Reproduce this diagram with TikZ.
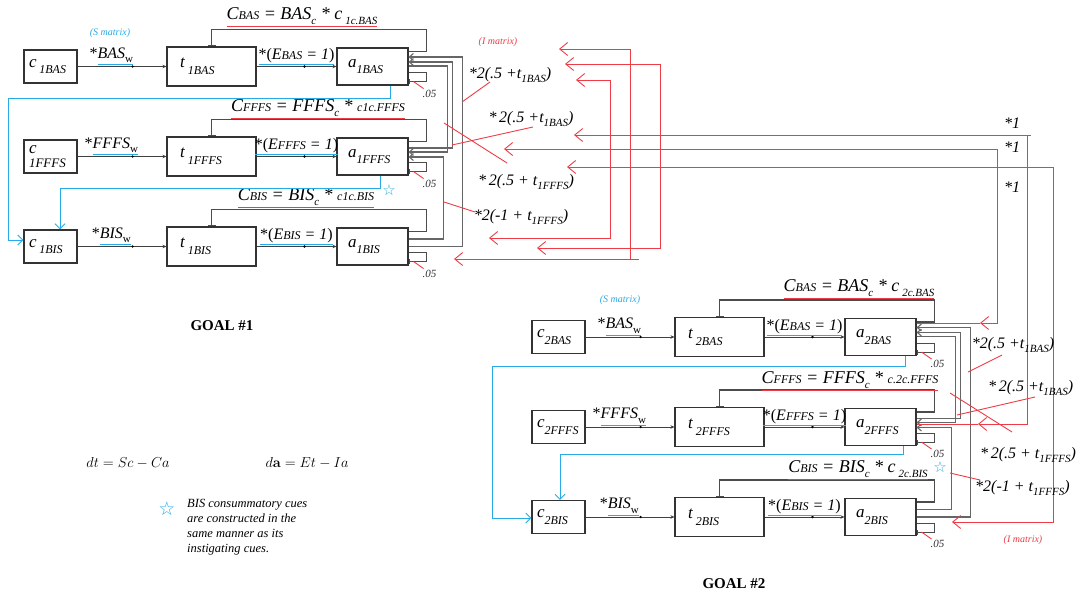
\documentclass[tikz,border=0pt]{standalone}
\usepackage[no-math]{fontspec}
\setmainfont{Liberation Serif}
\newfontfamily\djv{DejaVu Sans}
\usetikzlibrary{arrows.meta,calc}
\definecolor{sblue}{RGB}{40,170,230}
\definecolor{ired}{RGB}{238,60,70}

\newcommand{\lab}[3][\,]{\textit{#2}#1\raisebox{-0.4em}{\fontsize{12}{12}\selectfont\textit{#3}}}
\newcommand{\bund}[1]{{\color{sblue}\underline{\color{black}#1}}}
\newcommand{\rund}[1]{{\color{ired}\underline{\color{black}#1}}}
\newcommand{\ssub}[1]{{\fontsize{12}{12}\selectfont #1}}
\newcommand{\lsub}[1]{\raisebox{-0.3em}{\fontsize{11}{11}\selectfont #1}}

\tikzset{
  boxbase/.style={draw=black!80, line width=1.1pt, minimum height=#1, inner sep=0pt,
    align=left, font=\fontsize{17}{18}\selectfont},
  cbox/.style={boxbase=33pt, minimum width=53pt, text width=43pt},
  tbox/.style={boxbase=39pt, minimum width=89pt, text width=63pt},
  abox/.style={boxbase=37pt, minimum width=71pt, text width=49pt},
  conn/.style={draw=black!75, line width=0.9pt, -{Stealth[length=4pt,width=3.5pt]}},
  fb/.style={draw=black!70, line width=1.1pt, -{Bar[width=8pt,line width=1.1pt]}},
  selfloop/.style={draw=black!70, line width=1pt, -{Bar[width=5pt,line width=1pt]}},
  iconn/.style={draw=black!60, line width=1.1pt, -{Straight Barb[length=4pt,width=7pt]}},
  rline/.style={draw=ired, line width=0.9pt},
  rarr/.style={rline, {Straight Barb[length=8pt,width=13pt,line width=0.9pt]}-{Straight Barb[length=8pt,width=13pt,line width=0.9pt]}},
  bline/.style={draw=sblue, line width=1pt, -{Straight Barb[length=5pt,width=10pt]}},
  dotm/.style={circle, fill=black, inner sep=0.9pt},
  wlab/.style={above, inner sep=1pt, font=\fontsize{16}{16}\selectfont},
  elab/.style={above, inner sep=1pt, font=\fontsize{16}{16}\selectfont},
  eqn/.style={inner sep=0pt, font=\itshape\fontsize{18}{18}\selectfont},
  ilab/.style={inner sep=0pt, font=\itshape\fontsize{16}{16}\selectfont},
  small/.style={inner sep=0pt, font=\itshape\fontsize{10}{10}\selectfont},
  fivelab/.style={inner sep=0pt, font=\itshape\fontsize{11}{11}\selectfont, text=black!80},
  starnode/.style={inner sep=0pt, text=sblue, font=\djv\fontsize{15}{15}\selectfont},
  goal/.style={inner sep=0pt, font=\bfseries\fontsize{15}{15}\selectfont}
}

% one row of a goal: #1 id, #2 dx, #3 y, #4 c-label, #5 w text, #6 E subscript
\newcommand{\goalrow}[6]{%
  \node[cbox] (c#1) at ({#2+50.5},#3) {#4};
  \node[tbox] (t#1) at ({#2+211.5},#3) {\lab{t}{#1}};
  \node[abox] (a#1) at ({#2+372.5},#3) {\lab[]{a}{#1}};
  \draw[conn] (c#1) -- node[dotm,pos=0.62]{} node[wlab,pos=0.38]{*\bund{\textit{#5}\lsub{w}}} (t#1);
  \draw[conn] (t#1) -- node[dotm,pos=0.6]{} node[elab]{\bund{*(\textit{E\ssub{#6} = 1})}} (a#1);
  \draw[fb] ([yshift=-4pt]a#1.north east) -- ++(18,0) -- ++(0,-22) -| (t#1.north);
  \draw[selfloop] ([yshift=13pt]a#1.south east) -- ++(18,0) -- ++(0,9) -- ++(-18,0);
  \draw[rline] ([xshift=5pt,yshift=4pt]a#1.south east) -- ([xshift=15pt,yshift=-3pt]a#1.south east);
  \node[fivelab] (f#1) at ([xshift=21pt,yshift=-8pt]a#1.south east) {.05};
}
% inhibitory connections among the a boxes of one goal
\newcommand{\goalconn}[1]{%
  \draw[iconn] (a#1BIS.east) -- ++(54,0) |- ([yshift=9.5pt]a#1BAS.east);
  \draw[iconn] ([yshift=8.5pt]a#1FFFS.east) -- ++(44,0) |- ([yshift=4.5pt]a#1BAS.east);
  \draw[iconn] ([yshift=0.5pt]a#1BAS.east) -- ++(39,0) |- ([yshift=4.5pt]a#1FFFS.east);
  \draw[iconn] ([yshift=7.5pt]a#1BIS.east) -- ++(35,0) |- ([yshift=-0.5pt]a#1FFFS.east);
}

\begin{document}
\begin{tikzpicture}[x=1pt,y=-1pt]
\useasboundingbox (0,0) rectangle (1076,596);
\fill[white] (0,0) rectangle (1076,596);

% ---------------- GOAL 1 ----------------
\goalrow{1BAS}{0}{66.5}{\lab{c}{1BAS}}{BAS}{BAS}
\goalrow{1FFFS}{0}{156.5}{\shortstack[l]{\textit{c}\\[2pt]\fontsize{13}{13}\selectfont\textit{1FFFS}}}{FFFS}{FFFS}
\goalrow{1BIS}{0}{246.5}{\lab{c}{1BIS}}{BIS}{BIS}
\goalconn{1}

\node[eqn] (eq1BAS) at (302,17) {\rund{C\ssub{BAS} = BAS\lsub{c} * c\,\lsub{1c.BAS}}};
\node[eqn] (eq1FFFS) at (318,109) {\rund{C\ssub{FFFS} = FFFS\lsub{c} * \ssub{c1c.FFFS}}};
\node[eqn] (eq1BIS) at (306,198) {\rund{C\ssub{BIS} = BIS\lsub{c} * \ssub{c1c.BIS}}};
\node[small, text=sblue] (sm1) at (110,33) {(S matrix)};
\node[small, text=ired] (im1) at (498,42) {(I matrix)};

\draw[bline] ([xshift=17.5pt]a1BAS.south) -- ++(0,13) -- ++(-382,0) |- ([yshift=6.5pt]c1BIS.west);
\draw[bline] ([xshift=7.5pt]a1FFFS.south) -- ++(0,13) -| ([xshift=9.5pt]c1BIS.north);
\node[starnode] (star1) at (389,190) {☆};

% I-matrix red arrows of goal 1
\draw[rarr] (559,49) -- (630,49) -- (630,259) -- (454,259);
\draw[rline] (630,259) -- (639,259);
\draw[rarr] (565,64) -- (660,64) -- (660,248) -- (537,248);
\draw[rarr] (576,80) -- (610,80) -- (610,238) -- (489,238);

\draw[rline] (462,102) -- (490,82);
\draw[rline] (452,145) -- (533,127);
\draw[rline] (444,123) -- (507,163);
\draw[rline] (444,202) -- (475,212);
\node[ilab] (l1a) at (510,75) {*2(.5 +t\lsub{1BAS})};
\node[ilab] (l1b) at (531,119) {*\,2(.5 +t\lsub{1BAS})};
\node[ilab] (l1c) at (526,182) {*\,2(.5 + t\lsub{1FFFS})};
\node[ilab] (l1d) at (521,217) {*2(-1 + t\lsub{1FFFS})};

\node[goal] (g1) at (222,326) {GOAL \#1};

% ---------------- GOAL 2 ----------------
\goalrow{2BAS}{508}{337}{\lab[]{c}{2BAS}}{BAS}{BAS}
\goalrow{2FFFS}{508}{427}{\lab[]{c}{2FFFS}}{FFFS}{FFFS}
\goalrow{2BIS}{508}{517}{\lab[]{c}{2BIS}}{BIS}{BIS}
\goalconn{2}

\node[eqn] (eq2BAS) at (859,289) {\rund{C\ssub{BAS} = BAS\lsub{c} * c\,\lsub{2c.BAS}}};
\node[eqn] (eq2FFFS) at (850,381) {\rund{C\ssub{FFFS} = FFFS\lsub{c} * \ssub{c.2c.FFFS}}};
\node[eqn] (eq2BIS) at (858,470) {\rund{C\ssub{BIS} = BIS\lsub{c} * c\,\lsub{2c.BIS}}};
\node[small, text=sblue] (sm2) at (620,300) {(S matrix)};
\node[small, text=ired] (im2) at (1023,540) {(I matrix)};

\draw[bline] ([xshift=24.5pt]a2BAS.south) -- ++(0,10) -- ++(-413,0) |- ([yshift=-1pt]c2BIS.west);
\draw[bline] ([xshift=23pt]a2FFFS.south) -- ++(0,8) -| ([xshift=1.5pt]c2BIS.north);
\node[starnode] (star2) at (940,467) {☆};

% long red lines between the goals
\draw[rarr] (574,135) -- (1027,135) -- (1027,424) -- (978,424);
\draw[rline] (978,424) -- ([yshift=3pt]a2FFFS.east);
\draw[rline] (1027,135) -- (1031,135);
\draw[rarr] (504,149) -- (997,149) -- (997,323) -- (980,323);
\draw[rline] (980,323) -- ([yshift=14pt]a2BAS.east);
\draw[rarr] (567,167) -- (1053,167) -- (1053,522) -- (952,522);

\node[ilab] (one1) at (1012,123) {*1};
\node[ilab] (one2) at (1012,147) {*1};
\node[ilab] (one3) at (1012,187) {*1};

\draw[rline] (968,372) -- (1002,355);
\draw[rline] (957,415) -- (1035,397);
\draw[rline] (950,393) -- (1012,432);
\draw[rline] (950,473) -- (980,480);
\node[ilab] (l2a) at (1013,345) {*2(.5 +t\lsub{1BAS})};
\node[ilab, anchor=west] (l2b) at (988,388) {*\,2(.5 +t\lsub{1BAS})};
\node[ilab, anchor=west] (l2c) at (980,455) {*\,2(.5 + t\lsub{1FFFS})};
\node[ilab, anchor=west] (l2d) at (975,488) {*2(-1 + t\lsub{1FFFS})};

\node[goal] (g2) at (734,584) {GOAL \#2};

% ---------------- notes ----------------
\node[inner sep=0pt, font=\fontsize{14.5}{14.5}\selectfont] (eqdt) at (128,463) {$dt = Sc - Ca$};
\node[inner sep=0pt, font=\fontsize{14.5}{14.5}\selectfont] (eqda) at (307,463) {$d\mathbf{a} = Et - Ia$};
\node[starnode, font=\djv\fontsize{19}{19}\selectfont] (star3) at (167,509) {☆};
\node[inner sep=0pt, anchor=north west, align=left, font=\itshape\fontsize{12.5}{15}\selectfont] (note) at (187,499)
  {BIS consummatory cues\\are constructed in the\\same manner as its\\instigating cues.};
\end{tikzpicture}
\end{document}
